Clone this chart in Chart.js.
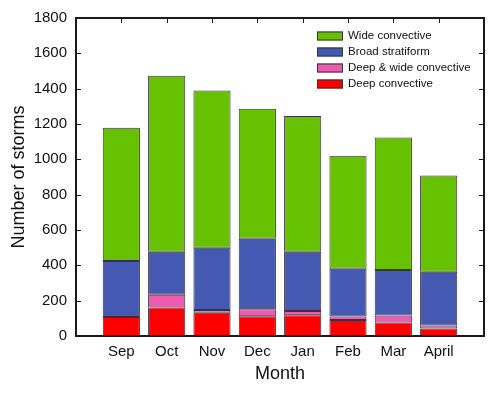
<!DOCTYPE html>
<html>
<head>
<meta charset="utf-8">
<title>Number of storms by month</title>
<script src="https://cdn.jsdelivr.net/npm/chart.js@4/dist/chart.umd.min.js"></script>
<style>
  html, body { margin: 0; padding: 0; background: #fff; }
  #wrap { width: 500px; height: 393px; }
</style>
</head>
<body>
<div id="wrap"><canvas id="stormChart" width="500" height="393"></canvas></div>
<script>
// --- data ---
const months = ['Sep', 'Oct', 'Nov', 'Dec', 'Jan', 'Feb', 'Mar', 'April'];
const deepConvective     = [108, 161, 131, 112, 118,  90,  77,  43];
const deepWideConvective = [  0,  73,  16,  39,  24,  20,  39,  17];
const broadStratiform    = [316, 243, 352, 400, 335, 271, 258, 304];
const wideConvective     = [755, 996, 890, 735, 768, 639, 749, 544];
const yTicks = [0, 200, 400, 600, 800, 1000, 1200, 1400, 1600, 1800];

const FONT = '"Liberation Sans", Arial, Helvetica, sans-serif';
const FRAME = '#1a1a1a';

// empty slot at each end so the bars sit at 1..8 on a 0..9 axis
const pad = arr => [null, ...arr, null];
const labels = ['', ...months, ''];

function series(label, data, color) {
  return {
    label: label,
    data: pad(data),
    backgroundColor: color,
    borderColor: '#3b3040',
    borderWidth: 1,
    borderSkipped: false,
    categoryPercentage: 1,
    barPercentage: 0.82
  };
}

const datasets = [
  series('Deep convective', deepConvective, '#ff0000'),
  series('Deep & wide convective', deepWideConvective, '#ee5ab0'),
  series('Broad stratiform', broadStratiform, '#4459b2'),
  series('Wide convective', wideConvective, '#66c200')
];

// frame box, inward ticks and the legend inside the plot
const framePlugin = {
  id: 'frame',
  afterDatasetsDraw(chart) {
    const { ctx, chartArea: a, scales } = chart;
    const t = 5;
    ctx.save();
    ctx.strokeStyle = FRAME;
    ctx.lineWidth = 1;
    ctx.beginPath();
    yTicks.forEach(v => {
      const y = Math.round(scales.y.getPixelForValue(v)) + 0.5;
      ctx.moveTo(a.left, y); ctx.lineTo(a.left + t, y);
      ctx.moveTo(a.right - t, y); ctx.lineTo(a.right, y);
    });
    months.forEach((m, i) => {
      const x = Math.round(scales.x.getPixelForValue(i + 1)) + 0.5;
      ctx.moveTo(x, a.top); ctx.lineTo(x, a.top + t);
    });
    ctx.stroke();

    ctx.lineWidth = 2;
    ctx.strokeRect(a.left, a.top, a.right - a.left, a.bottom - a.top);
    ctx.restore();
  },
  afterDraw(chart) {
    const { ctx } = chart;
    const items = chart.data.datasets.slice().reverse();
    const bx = 317, bw = 26, bh = 9, tx = 348;
    let y = 36;
    ctx.save();
    ctx.font = '11.5px ' + FONT;
    ctx.textBaseline = 'middle';
    items.forEach(ds => {
      ctx.fillStyle = ds.backgroundColor;
      ctx.fillRect(bx, y - bh / 2, bw, bh);
      ctx.strokeStyle = '#333';
      ctx.lineWidth = 1;
      ctx.strokeRect(bx + 0.5, y - bh / 2 + 0.5, bw - 1, bh - 1);
      ctx.fillStyle = '#111';
      ctx.fillText(ds.label, tx, y);
      y += 16;
    });
    ctx.restore();
  }
};

new Chart(document.getElementById('stormChart'), {
  type: 'bar',
  data: { labels: labels, datasets: datasets },
  options: {
    responsive: false,
    animation: false,
    devicePixelRatio: 1,
    layout: { padding: { top: 15, right: 16, left: 0, bottom: 0 } },
    plugins: {
      legend: { display: false },
      tooltip: { enabled: false }
    },
    scales: {
      x: {
        stacked: true,
        offset: false,
        grid: { display: false, drawTicks: false },
        border: { display: false },
        ticks: {
          autoSkip: false,
          maxRotation: 0,
          padding: 7,
          color: '#111',
          font: { family: FONT, size: 15 }
        },
        title: {
          display: true,
          text: 'Month',
          color: '#111',
          font: { family: FONT, size: 18 },
          padding: { top: 0, bottom: 8 }
        },
        afterFit(scale) { scale.height = 57; }
      },
      y: {
        stacked: true,
        min: 0,
        max: 1800,
        afterBuildTicks(scale) { scale.ticks = yTicks.map(v => ({ value: v })); },
        grid: { display: false, drawTicks: false },
        border: { display: false },
        ticks: {
          padding: 9,
          color: '#111',
          font: { family: FONT, size: 15 },
          callback: v => String(v)
        },
        title: {
          display: true,
          text: 'Number of storms',
          color: '#111',
          font: { family: FONT, size: 18 },
          padding: { top: 8, bottom: 0 }
        },
        afterFit(scale) { scale.width = 76; }
      }
    }
  },
  plugins: [framePlugin]
});
</script>
</body>
</html>
